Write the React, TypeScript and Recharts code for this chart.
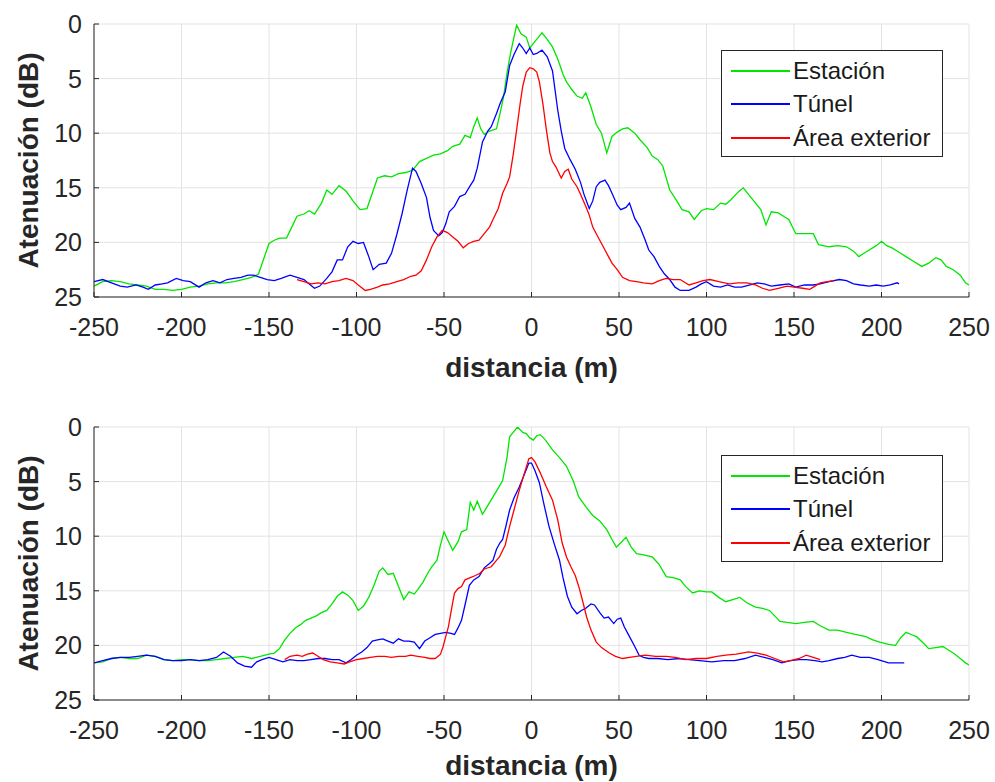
import { LineChart, Line, XAxis, YAxis, CartesianGrid, Legend } from 'recharts';

const FONT = '"Liberation Sans", Arial, Helvetica, sans-serif';
const INK = '#262626';

const xTicks = [-250, -200, -150, -100, -50, 0, 50, 100, 150, 200, 250];
const yTicks = [0, 5, 10, 15, 20, 25];

const seriesNames = ['Estación', 'Túnel', 'Área exterior'];
const seriesColors = ['#00e600', '#0000ff', '#ff0000'];

// top panel: [distancia (m), atenuación (dB)]
const topEstacion: [number, number][] = [
  [-250, 24.0], [-245, 23.6], [-240, 23.5], [-235, 23.6], [-230, 23.8], [-225, 23.9], [-220, 24.0], [-215, 24.3],
  [-210, 24.3], [-205, 24.4], [-200, 24.3], [-195, 24.1], [-190, 24.0], [-185, 23.8], [-180, 23.7], [-175, 23.7],
  [-170, 23.6], [-165, 23.4], [-160, 23.2], [-156, 22.9], [-150, 20.1], [-147, 19.8], [-144, 19.6], [-140, 19.6],
  [-137, 18.6], [-134, 17.6], [-130, 17.4], [-127, 17.1], [-124, 17.4], [-120, 16.4], [-117, 15.2], [-114, 15.6],
  [-110, 14.8], [-106, 15.3], [-102, 16.2], [-98, 17.0], [-94, 16.9], [-91, 15.5], [-88, 14.1], [-84, 13.9],
  [-80, 14.0], [-76, 13.7], [-72, 13.6], [-68, 13.4], [-64, 12.6], [-60, 12.3], [-56, 12.0], [-52, 11.9],
  [-48, 11.6], [-45, 11.2], [-41, 11.0], [-38, 10.2], [-35, 10.4], [-33, 9.4], [-31, 8.6], [-29, 9.6],
  [-27, 10.1], [-24, 9.8], [-20, 9.6], [-18, 8.2], [-16, 6.7], [-14, 4.5], [-12, 2.7], [-10, 1.2],
  [-8.5, 0.1], [-6, 0.9], [-3, 1.2], [-1, 2.2], [1, 1.8], [4, 1.2], [6, 0.8], [9, 1.4], [12, 2.1], [15, 3.2],
  [18, 4.6], [20, 5.3], [23, 6.0], [26, 6.6], [29, 6.8], [31, 6.3], [34, 7.6], [37, 9.2], [40, 10.0], [43, 11.8],
  [46, 10.3], [49, 9.9], [52, 9.6], [55, 9.5], [59, 10.0], [62, 10.6], [66, 11.3], [69, 12.1], [72, 12.4],
  [75, 13.0], [79, 15.2], [83, 16.2], [86, 17.0], [90, 17.2], [93, 17.9], [97, 17.1], [100, 16.9], [104, 17.0],
  [108, 16.4], [111, 16.5], [114, 16.1], [118, 15.4], [121, 15.0], [124, 15.6], [127, 16.2], [131, 17.0],
  [134, 18.4], [137, 17.2], [141, 17.3], [144, 17.6], [147, 17.9], [151, 19.2], [156, 19.2], [161, 19.2],
  [164, 20.2], [170, 20.4], [175, 20.3], [180, 20.4], [184, 20.8], [187, 21.3], [190, 21.0], [193, 20.7],
  [197, 20.3], [200, 19.9], [203, 20.3], [206, 20.5], [210, 20.9], [214, 21.3], [218, 21.7], [223, 22.2],
  [227, 21.9], [231, 21.4], [234, 21.6], [237, 22.2], [241, 22.5], [245, 23.0], [248, 23.7], [250, 23.9],
];

const topTunel: [number, number][] = [
  [-250, 23.6], [-245, 23.4], [-240, 23.7], [-235, 24.0], [-231, 24.1], [-226, 23.9], [-222, 24.1], [-219, 24.3],
  [-215, 23.9], [-211, 23.8], [-208, 23.7], [-203, 23.3], [-199, 23.5], [-195, 23.6], [-190, 24.1], [-186, 23.7],
  [-182, 23.5], [-178, 23.7], [-174, 23.4], [-170, 23.3], [-166, 23.2], [-162, 23.0], [-159, 23.0], [-155, 23.2],
  [-151, 23.4], [-147, 23.5], [-143, 23.3], [-138, 23.0], [-134, 23.2], [-130, 23.4], [-127, 23.8], [-124, 24.2],
  [-121, 24.0], [-117, 23.3], [-114, 22.7], [-111, 21.6], [-108, 21.6], [-105, 20.4], [-102, 19.9], [-99, 20.1],
  [-96, 20.0], [-93, 21.3], [-90.5, 22.5], [-87, 22.0], [-83, 21.9], [-80, 21.0], [-77, 19.3], [-74, 17.4],
  [-71, 15.2], [-68, 13.2], [-66, 13.5], [-63, 14.6], [-60, 15.9], [-58, 17.7], [-56, 18.9], [-53, 19.4],
  [-51, 19.1], [-49, 18.3], [-47, 17.2], [-44, 16.7], [-41, 15.8], [-38, 15.6], [-35, 14.8], [-33, 14.3],
  [-31, 13.2], [-28, 10.8], [-25, 9.8], [-23, 9.4], [-20, 8.2], [-18, 7.3], [-15, 6.2], [-12.5, 3.8], [-10, 2.8],
  [-7, 1.8], [-5, 2.2], [-3, 2.7], [-1, 2.2], [1, 2.8], [3, 2.7], [6, 2.4], [9, 3.0], [12, 4.3], [15, 7.9],
  [17, 9.8], [19, 11.4], [22, 12.4], [25, 13.3], [28, 14.5], [30, 15.6], [33, 16.9], [35, 16.2], [37, 14.9],
  [39, 14.5], [42, 14.3], [44, 14.8], [46, 15.5], [49, 16.6], [51, 17.0], [54, 16.8], [56, 16.4], [59, 17.8],
  [62, 18.6], [65, 19.8], [67, 20.7], [70, 21.3], [73, 22.2], [76, 22.9], [79, 23.4], [82, 24.1], [85, 24.4],
  [90, 24.4], [94, 24.1], [97, 23.8], [100, 23.6], [104, 24.0], [108, 24.1], [112, 23.9], [116, 24.1],
  [120, 24.1], [125, 23.9], [129, 23.7], [133, 23.8], [137, 24.0], [142, 23.9], [147, 23.8], [151, 24.1],
  [156, 23.9], [161, 23.9], [165, 23.8], [170, 23.6], [176, 23.4], [180, 23.5], [184, 23.8], [188, 23.9],
  [193, 24.0], [197, 23.9], [201, 24.0], [205, 23.9], [209, 23.7], [210, 23.8],
];

const topExterior: [number, number][] = [
  [-134, 23.4], [-130, 23.6], [-126, 23.8], [-122, 23.7], [-118, 23.8], [-114, 23.6], [-110, 23.5], [-106, 23.3],
  [-102, 23.5], [-99, 23.9], [-95, 24.4], [-92, 24.3], [-88, 24.1], [-85, 23.9], [-81, 23.8], [-77, 23.6],
  [-73, 23.4], [-69, 23.1], [-66, 23.0], [-63, 22.6], [-60, 21.6], [-57, 20.4], [-54, 19.5], [-51, 18.9],
  [-48, 19.1], [-45, 19.5], [-42, 19.9], [-39, 20.5], [-36, 20.1], [-33, 19.9], [-30, 19.8], [-27, 19.2],
  [-24, 18.6], [-22, 17.9], [-19, 16.9], [-16.5, 15.5], [-14, 14.6], [-12.5, 14.0], [-10.5, 12.0], [-8.5, 9.7],
  [-6.5, 7.3], [-5, 5.7], [-3, 4.4], [-1, 4.0], [1, 4.1], [3, 4.4], [4.5, 5.3], [6.5, 7.3], [8.5, 9.7],
  [10.5, 11.8], [12, 12.6], [14, 13.1], [17, 14.1], [19, 13.5], [21, 13.3], [23, 14.2], [26, 14.9], [28, 15.6],
  [31, 16.7], [33, 17.5], [35, 18.6], [38, 19.5], [41, 20.4], [44, 21.3], [46, 21.9], [49, 22.5], [52, 23.2],
  [56, 23.5], [60, 23.6], [64, 23.7], [69, 23.8], [73, 23.5], [77, 23.3], [81, 23.4], [85, 23.4], [90, 23.9],
  [94, 23.7], [98, 23.5], [102, 23.4], [107, 23.6], [113, 23.8], [118, 23.7], [123, 23.7], [128, 23.9],
  [132, 24.2], [136, 24.4], [141, 24.2], [146, 24.0], [150, 24.1], [155, 24.2], [159, 24.3], [162, 24.0],
  [165, 23.7], [169, 23.6], [173, 23.5],
];

// bottom panel
const bottomEstacion: [number, number][] = [
  [-250, 21.6], [-245, 21.5], [-240, 21.2], [-235, 21.1], [-230, 21.2], [-225, 21.2], [-220, 20.9], [-215, 21.0],
  [-210, 21.3], [-205, 21.4], [-200, 21.3], [-195, 21.3], [-190, 21.4], [-185, 21.4], [-180, 21.3], [-175, 21.2],
  [-170, 21.1], [-165, 21.0], [-160, 21.2], [-155, 21.0], [-150, 20.8], [-147, 20.7], [-144, 20.3], [-141, 19.5],
  [-138, 18.9], [-135, 18.4], [-132, 18.1], [-129, 17.7], [-126, 17.5], [-123, 17.3], [-120, 17.0], [-117, 16.8],
  [-114, 16.2], [-111, 15.5], [-108, 15.1], [-105, 15.4], [-102, 15.9], [-99, 16.8], [-96, 16.4], [-93, 15.6],
  [-90, 14.5], [-87, 13.2], [-85, 12.9], [-82, 13.5], [-79, 13.4], [-76, 14.6], [-73, 15.8], [-70, 15.1],
  [-67, 15.3], [-65, 14.9], [-62, 14.2], [-59, 13.3], [-57, 12.8], [-54, 12.2], [-52, 10.8], [-50, 9.6],
  [-48, 10.3], [-45, 11.3], [-42, 10.5], [-40, 9.6], [-37, 9.4], [-35, 6.9], [-33, 7.6], [-31, 6.8], [-28, 8.0],
  [-25, 7.2], [-22, 6.4], [-19, 5.6], [-16.5, 4.9], [-14, 2.8], [-12.5, 0.9], [-10, 0.4], [-8, 0.0], [-5, 0.5],
  [-3, 0.6], [-1, 1.0], [1, 1.2], [3, 0.8], [5, 0.7], [8, 1.2], [12, 2.1], [16, 2.8], [20, 3.6], [24, 5.0],
  [27, 6.4], [31, 7.3], [35, 8.1], [39, 8.6], [43, 9.4], [46, 10.3], [48.5, 11.0], [51, 10.6], [54, 10.1],
  [57, 11.0], [60, 11.6], [64, 11.7], [69, 11.9], [73, 12.6], [77, 13.7], [81, 13.8], [85, 14.0], [88, 14.6],
  [92, 15.2], [96, 15.0], [100, 15.1], [103, 15.1], [107, 15.6], [111, 16.0], [115, 15.8], [119, 15.6],
  [123, 16.1], [128, 16.5], [132, 16.6], [136, 16.8], [139, 17.3], [142, 17.8], [146, 17.9], [151, 18.0],
  [156, 17.9], [161, 17.8], [165, 18.2], [170, 18.6], [175, 18.6], [180, 18.8], [185, 19.0], [191, 19.2],
  [195, 19.5], [199, 19.7], [204, 19.9], [208, 20.0], [211, 19.3], [214, 18.8], [217, 19.0], [220, 19.2],
  [224, 19.8], [227, 20.3], [231, 20.2], [235, 20.1], [238, 20.4], [241, 20.7], [245, 21.2], [248, 21.6],
  [250, 21.8],
];

const bottomTunel: [number, number][] = [
  [-250, 21.6], [-245, 21.4], [-240, 21.2], [-235, 21.1], [-230, 21.1], [-225, 21.0], [-220, 20.9], [-215, 21.0],
  [-210, 21.3], [-205, 21.4], [-200, 21.4], [-195, 21.3], [-190, 21.4], [-185, 21.3], [-180, 21.1], [-176, 20.6],
  [-172, 21.0], [-168, 21.6], [-164, 21.9], [-160, 22.0], [-157, 21.5], [-154, 21.3], [-150, 21.1], [-146, 21.3],
  [-142, 21.5], [-138, 21.3], [-134, 21.4], [-130, 21.4], [-126, 21.3], [-122, 21.2], [-118, 21.2], [-114, 21.3],
  [-110, 21.3], [-106, 21.6], [-103, 21.3], [-100, 20.9], [-97, 20.6], [-94, 20.2], [-91, 19.6], [-88, 19.5],
  [-85, 19.4], [-82, 19.6], [-79, 19.8], [-76, 19.4], [-73, 19.6], [-70, 19.6], [-67, 19.7], [-64, 20.3],
  [-61, 19.6], [-58, 19.3], [-55, 19.0], [-52, 18.9], [-49, 18.8], [-46, 18.9], [-44, 19.0], [-42, 18.4],
  [-40, 17.7], [-38, 16.3], [-35.5, 14.5], [-33, 14.0], [-30, 13.7], [-27, 12.9], [-24, 12.5], [-22, 12.2],
  [-20, 11.2], [-18, 10.6], [-16.5, 10.3], [-14.5, 9.0], [-12.5, 7.6], [-10, 6.5], [-7, 5.5], [-4, 4.3],
  [-1.5, 3.3], [0, 3.3], [2, 4.0], [4.5, 5.1], [7, 7.0], [10, 9.1], [13, 10.7], [16, 12.2], [18, 13.8],
  [20.5, 15.5], [23, 16.5], [26, 17.1], [28.5, 16.8], [31, 16.6], [34, 16.2], [36, 16.3], [39, 17.0],
  [41.5, 17.5], [44, 17.4], [47, 18.0], [49, 17.6], [51, 17.5], [53, 18.3], [56, 19.2], [59, 20.1], [61.5, 20.9],
  [64, 21.1], [67, 21.2], [72, 21.2], [78, 21.3], [84, 21.2], [90, 21.3], [96, 21.4], [103, 21.5], [110, 21.4],
  [116, 21.4], [122, 21.2], [128, 20.9], [133, 21.1], [138, 21.3], [143, 21.6], [148, 21.4], [153, 21.3],
  [157, 21.3], [162, 21.4], [166, 21.5], [170, 21.4], [175, 21.2], [179, 21.1], [183, 20.9], [188, 21.1],
  [193, 21.1], [198, 21.3], [204, 21.6], [208, 21.6], [213, 21.6],
];

const bottomExterior: [number, number][] = [
  [-141, 21.3], [-138, 21.0], [-134, 20.9], [-131, 21.0], [-128, 20.8], [-125, 20.7], [-122, 21.0], [-119, 21.3],
  [-115, 21.5], [-111, 21.6], [-107, 21.7], [-104, 21.5], [-100, 21.3], [-96, 21.2], [-92, 21.1], [-88, 21.0],
  [-84, 21.0], [-80, 21.1], [-76, 21.0], [-72, 21.0], [-69, 20.9], [-65, 21.0], [-61, 21.1], [-58, 21.2],
  [-55, 21.2], [-52, 20.8], [-50.5, 20.1], [-49, 19.2], [-47.5, 18.3], [-45.5, 16.5], [-44, 15.2], [-42, 14.8],
  [-40, 14.6], [-38, 14.0], [-35, 13.8], [-32, 13.6], [-29.5, 13.4], [-27, 13.0], [-23, 12.8], [-20.5, 12.3],
  [-18.3, 11.9], [-15, 10.8], [-12.5, 9.1], [-10, 7.6], [-7, 5.8], [-4, 4.2], [-1.5, 2.9], [0, 2.8], [2, 3.2],
  [5, 4.2], [8.5, 5.5], [12, 6.7], [15, 8.5], [17.5, 10.6], [20, 11.9], [22.5, 12.8], [25, 13.6], [27, 14.6],
  [29, 15.8], [31.5, 17.4], [34, 18.6], [37, 19.7], [40, 20.2], [44.5, 20.7], [48, 21.0], [52, 21.2], [56, 21.1],
  [60, 21.0], [65, 20.9], [71, 21.0], [77, 21.0], [82, 21.1], [88, 21.3], [94, 21.2], [100, 21.2], [106, 21.0],
  [111, 20.9], [117, 20.8], [124, 20.6], [129, 20.7], [134, 20.9], [139, 21.2], [144, 21.5], [148, 21.4],
  [153, 21.2], [157, 20.9], [161, 21.1], [165, 21.3],
];

const toPoints = (arr: [number, number][]) => arr.map(([x, y]) => ({ x, y }));

function XTick({ x, y, payload }: any) {
  return (
    <g>
      <line x1={x} x2={x} y1={y} y2={y - 5} stroke={INK} strokeWidth={1} />
      <text x={x} y={y + 39} textAnchor="middle" fontSize={25} fontFamily={FONT} fill={INK}>
        {payload.value}
      </text>
    </g>
  );
}

function YTick({ x, y, payload }: any) {
  return (
    <g>
      <line x1={x} x2={x + 5} y1={y} y2={y} stroke={INK} strokeWidth={1} />
      <text x={x - 12} y={y + 9} textAnchor="end" fontSize={25} fontFamily={FONT} fill={INK}>
        {payload.value}
      </text>
    </g>
  );
}

const rowTops = [5, 38, 72];

function LegendBox({ payload }: any) {
  const items = seriesNames.map((name) => (payload || []).find((p: any) => p.value === name)).filter(Boolean);
  return (
    <div
      style={{
        width: 222,
        height: 107,
        boxSizing: 'border-box',
        border: `1px solid ${INK}`,
        background: '#fff',
        position: 'relative',
        fontFamily: FONT,
      }}
    >
      {items.map((p: any, i: number) => (
        <div key={p.value} style={{ position: 'absolute', left: 0, top: rowTops[i], height: 30, width: 220 }}>
          <div style={{ position: 'absolute', left: 9, top: 14, width: 59, height: 2, background: p.color }} />
          <div style={{ position: 'absolute', left: 71, top: 0, fontSize: 24, lineHeight: '30px', color: '#1a1a1a', whiteSpace: 'nowrap' }}>
            {p.value}
          </div>
        </div>
      ))}
    </div>
  );
}

function Panel({ series, top, xHeight, legendTop, labelDy }: { series: [number, number][][]; top: number; xHeight: number; legendTop: number; labelDy: number }) {
  return (
    <LineChart width={995} height={391} margin={{ top, right: 26, bottom: 0, left: 0 }}>
      <CartesianGrid stroke="#e3e3e3" strokeWidth={1} />
      <XAxis
        type="number"
        dataKey="x"
        domain={[-250, 250]}
        ticks={xTicks}
        allowDataOverflow
        height={xHeight}
        tickSize={0}
        tickMargin={0}
        tickLine={false}
        axisLine={{ stroke: INK, strokeWidth: 1 }}
        tick={<XTick />}
        label={{
          content: ({ viewBox }: any) => (
            <text
              x={viewBox.x + viewBox.width / 2}
              y={viewBox.y + labelDy}
              textAnchor="middle"
              fontSize={28}
              fontWeight="bold"
              fontFamily={FONT}
              fill={INK}
            >
              distancia (m)
            </text>
          ),
        }}
      />
      <YAxis
        type="number"
        dataKey="y"
        reversed
        domain={[0, 25]}
        ticks={yTicks}
        allowDataOverflow
        width={94}
        tickSize={0}
        tickMargin={0}
        tickLine={false}
        axisLine={{ stroke: INK, strokeWidth: 1 }}
        tick={<YTick />}
        label={{
          content: ({ viewBox }: any) => {
            const cx = 28;
            const cy = viewBox.y + viewBox.height / 2;
            return (
              <text
                x={cx}
                y={cy}
                transform={`rotate(-90 ${cx} ${cy})`}
                textAnchor="middle"
                dominantBaseline="central"
                fontSize={28}
                fontWeight="bold"
                fontFamily={FONT}
                fill={INK}
              >
                Atenuación (dB)
              </text>
            );
          },
        }}
      />
      <Legend
        layout="vertical"
        align="center"
        verticalAlign="middle"
        content={<LegendBox />}
        wrapperStyle={{ left: 721, top: legendTop, width: 222, height: 107 }}
      />
      {series.map((s, i) => (
        <Line
          key={seriesNames[i]}
          name={seriesNames[i]}
          data={toPoints(s)}
          dataKey="y"
          type="linear"
          stroke={seriesColors[i]}
          strokeWidth={1.3}
          dot={false}
          activeDot={false}
          isAnimationActive={false}
        />
      ))}
    </LineChart>
  );
}

export default function App() {
  return (
    <div style={{ position: 'absolute', left: 0, top: 0, width: 995, height: 782, background: '#fff', overflow: 'hidden' }}>
      <Panel series={[topEstacion, topTunel, topExterior]} top={24} xHeight={94} legendTop={50} labelDy={80} />
      <Panel series={[bottomEstacion, bottomTunel, bottomExterior]} top={36} xHeight={82} legendTop={64} labelDy={75} />
    </div>
  );
}
